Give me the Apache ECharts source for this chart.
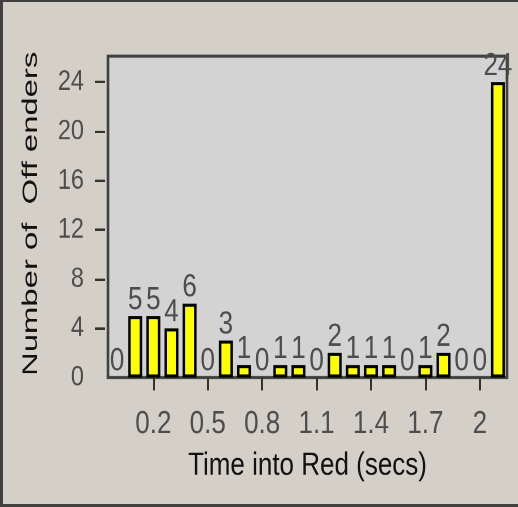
<!DOCTYPE html>
<html>
<head>
<meta charset="utf-8">
<script src="https://cdn.jsdelivr.net/npm/echarts@6/dist/echarts.min.js"></script>
<style>
  html, body { margin: 0; padding: 0; background: #d4d0c8; overflow: hidden; }
  #chart { position: absolute; left: 0; top: 0; width: 518px; height: 415px;
           transform: scaleY(1.2217); transform-origin: 0 0; }
  #frame { position: absolute; left: 0; top: 0; width: 518px; height: 507px; box-sizing: border-box;
           border-left: 3px solid #404040; border-top: 2px solid #404040; border-bottom: 3px solid #404040; pointer-events: none; }
</style>
</head>
<body>
<div id="chart"></div>
<div id="frame"></div>
<script>
// Bins of "Time into Red" (secs)
const categories = ["0","0.1","0.2","0.3","0.4","0.5","0.6","0.7","0.8","0.9","1","1.1","1.2","1.3","1.4","1.5","1.6","1.7","1.8","1.9","2","2.1"];
const offenders = [0,5,5,4,6,0,3,1,0,1,1,0,2,1,1,1,0,1,2,0,0,24];
const yTickValues = [4,8,12,16,20,24];
const yLabelValues = [0,4,8,12,16,20,24];
const xTitle = "Time into Red (secs)";
const yTitle = "Number of  Off enders";

const font = '"Liberation Sans", Arial, sans-serif';
const chart = echarts.init(document.getElementById('chart'), null, { renderer: 'canvas', devicePixelRatio: 2 });
chart.setOption({
  animation: false,
  backgroundColor: 'transparent',
  grid: {
    left: 108, top: 46, right: 11, bottom: 106,
    show: true, backgroundColor: '#d3d3d3', borderColor: '#404040', borderWidth: 2.6
  },
  xAxis: {
    type: 'category',
    data: categories,
    offset: 4.5,
    axisLine: { show: false },
    axisTick: {
      show: true, alignWithLabel: true, length: 10.6, inside: false,
      interval: (i) => i % 3 === 2,
      lineStyle: { color: '#333', width: 2 }
    },
    axisLabel: {
      interval: (i) => i % 3 === 2,
      margin: 21,
      fontFamily: font, fontSize: 26, color: '#4d4d4d'
    },
    name: xTitle,
    nameLocation: 'middle',
    nameGap: 55,
    nameTextStyle: { fontFamily: font, fontSize: 26, color: '#111' },
    splitLine: { show: false }
  },
  yAxis: {
    type: 'value',
    min: 0, max: 26.1, interval: 4,
    offset: 3,
    axisLine: { show: false },
    axisTick: { show: true, length: 10, customValues: yTickValues, lineStyle: { color: '#333', width: 2 } },
    axisLabel: { customValues: yLabelValues, margin: 21, fontFamily: font, fontSize: 23.5, color: '#4d4d4d' },
    splitLine: { show: false }
  },
  graphic: [{
    type: 'text',
    x: 31, y: 175,
    rotation: Math.PI / 2,
    scaleX: 1.25,
    style: {
      text: yTitle,
      font: '21.5px "Liberation Sans", Arial, sans-serif',
      fill: '#111',
      align: 'center', verticalAlign: 'middle',
      textAlign: 'center', textVerticalAlign: 'middle'
    }
  }],
  series: [{
    type: 'bar',
    data: offenders.map(v => v === 0 ? { value: v, itemStyle: { borderWidth: 0 } } : v),
    barWidth: 14,
    itemStyle: { color: '#ffff00', borderColor: '#000', borderWidth: 2.5 },
    label: {
      show: true, position: 'top', distance: 0,
      fontFamily: font, fontSize: 26, color: '#4d4d4d'
    }
  }]
});
</script>
</body>
</html>
